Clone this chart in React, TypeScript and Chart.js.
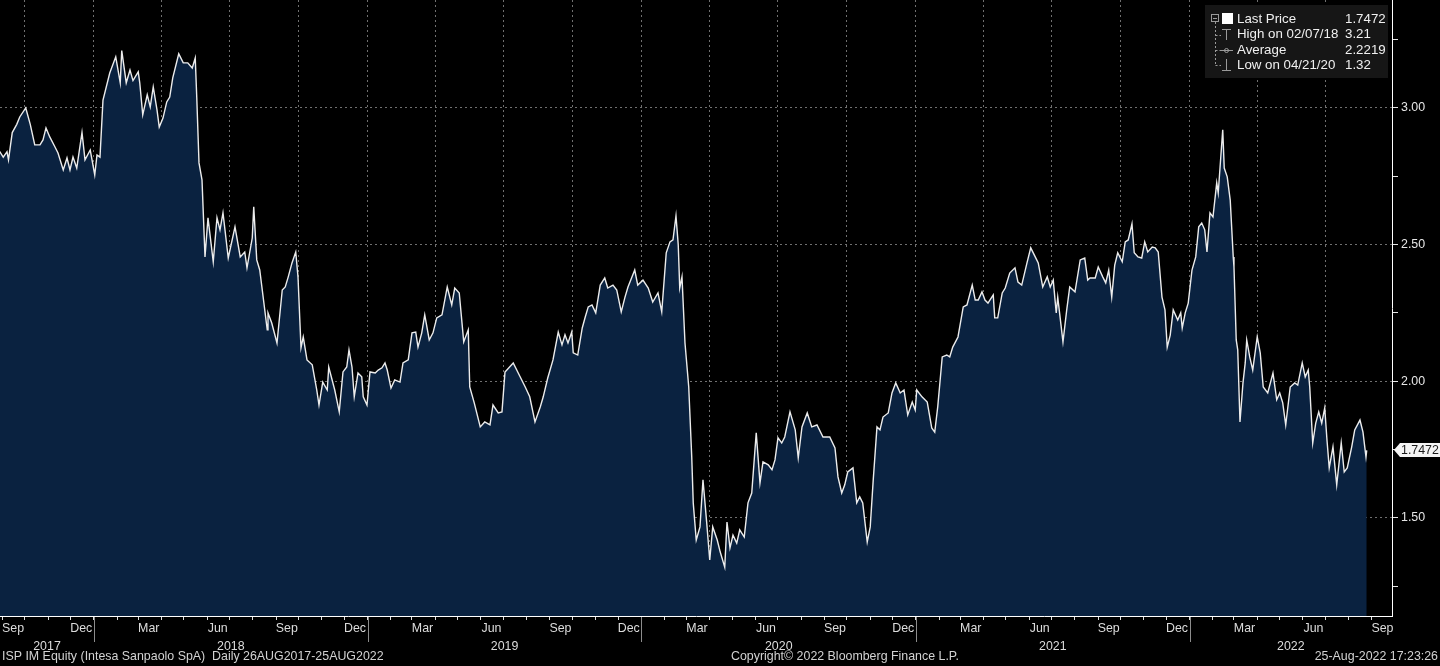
import React, { useEffect, useRef } from 'react';
import { Chart, registerables } from 'chart.js';

Chart.register(...registerables);

const FONT = "'Liberation Sans', Arial, sans-serif";
const START_UTC = Date.UTC(2017, 7, 26);

// days since 26 Aug 2017
const tradingDays = [
  0, 7, 12, 14, 19, 25, 29, 37, 43, 49,
  56, 60, 64, 69, 76, 80, 87, 92, 96, 100,
  105, 112, 116, 123, 129, 132, 136, 140, 149, 157,
  163, 165, 171, 176, 180, 187, 189, 193, 199, 203,
  207, 212, 215, 220, 225, 229, 233, 241, 247, 253,
  259, 263, 265, 268, 272, 276, 280, 287, 292, 296,
  300, 307, 316, 323, 329, 332, 339, 341, 345, 349,
  359, 360, 365, 372, 379, 383, 387, 392, 397, 400,
  404, 407, 412, 419, 425, 428, 433, 439, 441, 449,
  455, 460, 465, 468, 472, 475, 480, 485, 487, 492,
  496, 503, 507, 512, 516, 519, 524, 529, 536, 540,
  547, 552, 557, 560, 565, 569, 575, 580, 585, 592,
  599, 605, 609, 615, 621, 627, 629, 635, 643, 649,
  656, 660, 667, 672, 676, 687, 693, 703, 709, 716,
  723, 727, 733, 740, 747, 752, 756, 760, 765, 767,
  773, 779, 783, 787, 792, 797, 803, 809, 813, 820,
  825, 831, 836, 840, 849, 853, 860, 867, 873, 880,
  885, 891, 896, 900, 904, 907, 909, 912, 916, 921,
  925, 927, 931, 936, 940, 945, 949, 953, 959, 963,
  969, 972, 976, 980, 985, 989, 995, 1000, 1005, 1011,
  1016, 1020, 1027, 1032, 1036, 1040, 1045, 1049, 1056, 1063,
  1067, 1072, 1079, 1085, 1092, 1100, 1109, 1116, 1120, 1125,
  1129, 1133, 1140, 1145, 1149, 1153, 1159, 1163, 1167, 1172,
  1176, 1180, 1187, 1192, 1197, 1203, 1208, 1213, 1219, 1223,
  1225, 1232, 1239, 1245, 1249, 1253, 1259, 1265, 1269, 1273,
  1280, 1287, 1292, 1299, 1303, 1307, 1312, 1316, 1320, 1327,
  1329, 1333, 1339, 1343, 1349, 1356, 1360, 1365, 1372, 1377,
  1383, 1387, 1393, 1399, 1403, 1407, 1411, 1413, 1420, 1425,
  1429, 1436, 1443, 1449, 1453, 1456, 1463, 1467, 1473, 1477,
  1481, 1485, 1489, 1493, 1499, 1503, 1507, 1512, 1515, 1520,
  1525, 1529, 1533, 1539, 1543, 1547, 1552, 1556, 1559, 1563,
  1567, 1573, 1577, 1579, 1583, 1587, 1592, 1597, 1601, 1605,
  1609, 1612, 1616, 1620, 1625, 1627, 1633, 1635, 1639, 1643,
  1647, 1648, 1651, 1653, 1656, 1660, 1663, 1665, 1669, 1673,
  1679, 1683, 1687, 1693, 1700, 1705, 1709, 1713, 1717, 1723,
  1729, 1733, 1739, 1743, 1747, 1749, 1753, 1757, 1761, 1765,
  1769, 1772, 1775, 1780, 1785, 1791, 1795, 1799, 1805, 1809,
  1816, 1820, 1824, 1825,
];

const closePrices = [
  2.85, 2.82, 2.84, 2.81, 2.91, 2.94, 2.967, 3.0, 2.94, 2.865,
  2.865, 2.883, 2.927, 2.894, 2.857, 2.835, 2.773, 2.817, 2.773, 2.82,
  2.78, 2.91, 2.81, 2.846, 2.755, 2.828, 2.82, 3.029, 3.128, 3.187,
  3.092, 3.21, 3.092, 3.139, 3.1, 3.132, 3.092, 2.975, 3.048, 3.004,
  3.077, 2.993, 2.93, 2.963, 3.022, 3.04, 3.11, 3.198, 3.165, 3.165,
  3.146, 3.183, 3.04, 2.799, 2.737, 2.455, 2.598, 2.437, 2.598, 2.554,
  2.616, 2.451, 2.565, 2.455, 2.473, 2.415, 2.524, 2.638, 2.444, 2.407,
  2.188, 2.25, 2.213, 2.14, 2.334, 2.345, 2.382, 2.433, 2.473, 2.382,
  2.122, 2.162, 2.078, 2.06, 1.968, 1.913, 1.997, 1.968, 2.052, 1.968,
  1.888, 2.034, 2.052, 2.115, 2.052, 1.943, 2.03, 2.016, 1.943, 1.913,
  2.034, 2.03, 2.041, 2.049, 2.067, 2.041, 1.975, 2.005, 1.997, 2.067,
  2.078, 2.177, 2.18, 2.125, 2.177, 2.243, 2.151, 2.177, 2.232, 2.243,
  2.345, 2.279, 2.341, 2.323, 2.144, 2.188, 1.979, 1.921, 1.833, 1.851,
  1.84, 1.913, 1.884, 1.888, 2.034, 2.067, 2.034, 1.979, 1.943, 1.851,
  1.906, 1.943, 2.012, 2.078, 2.18, 2.133, 2.17, 2.14, 2.18, 2.104,
  2.096, 2.195, 2.235, 2.272, 2.279, 2.25, 2.352, 2.378, 2.341, 2.352,
  2.334, 2.254, 2.308, 2.345, 2.407, 2.352, 2.37, 2.341, 2.29, 2.323,
  2.254, 2.47, 2.51, 2.517, 2.605, 2.499, 2.341, 2.382, 2.14, 1.979,
  1.723, 1.555, 1.419, 1.467, 1.639, 1.481, 1.346, 1.467, 1.419, 1.375,
  1.32, 1.485, 1.39, 1.437, 1.408, 1.456, 1.43, 1.555, 1.591, 1.811,
  1.628, 1.705, 1.694, 1.676, 1.712, 1.793, 1.774, 1.796, 1.888, 1.822,
  1.72, 1.833, 1.884, 1.833, 1.84, 1.796, 1.796, 1.756, 1.65, 1.591,
  1.621, 1.668, 1.683, 1.555, 1.577, 1.555, 1.412, 1.467, 1.639, 1.833,
  1.822, 1.869, 1.884, 1.957, 1.994, 1.957, 1.968, 1.877, 1.924, 1.895,
  1.968, 1.943, 1.924, 1.829, 1.814, 1.906, 2.089, 2.096, 2.089, 2.125,
  2.162, 2.272, 2.279, 2.352, 2.297, 2.297, 2.327, 2.297, 2.286, 2.316,
  2.232, 2.232, 2.323, 2.341, 2.396, 2.415, 2.363, 2.352, 2.433, 2.488,
  2.455, 2.433, 2.345, 2.382, 2.345, 2.37, 2.25, 2.308, 2.144, 2.261,
  2.345, 2.327, 2.444, 2.451, 2.37, 2.378, 2.378, 2.418, 2.382, 2.36,
  2.407, 2.308, 2.425, 2.47, 2.437, 2.51, 2.517, 2.576, 2.47, 2.455,
  2.451, 2.51, 2.473, 2.491, 2.488, 2.473, 2.308, 2.261, 2.125, 2.169,
  2.261, 2.224, 2.25, 2.195, 2.25, 2.286, 2.407, 2.455, 2.565, 2.579,
  2.554, 2.473, 2.616, 2.601, 2.726, 2.689, 2.92, 2.78, 2.748, 2.663,
  2.455, 2.418, 2.151, 2.115, 1.851, 1.994, 2.067, 2.151, 2.089, 2.041,
  2.162, 2.104, 1.979, 1.957, 2.03, 1.932, 1.957, 1.921, 1.84, 1.979,
  1.994, 1.986, 2.067, 2.016, 2.041, 1.979, 1.774, 1.847, 1.888, 1.847,
  1.902, 1.785, 1.683, 1.76, 1.621, 1.774, 1.668, 1.683, 1.76, 1.822,
  1.858, 1.814, 1.723, 1.7472,
];

const yTickValues = [1.25, 1.5, 1.75, 2.0, 2.25, 2.5, 2.75, 3.0, 3.25];
const yLabelledValues = [1.5, 2.0, 2.5, 3.0];
const monthNames = ['Jan', 'Feb', 'Mar', 'Apr', 'May', 'Jun', 'Jul', 'Aug', 'Sep', 'Oct', 'Nov', 'Dec'];
const labelledMonths = [2, 5, 8, 11];
const years = [2017, 2018, 2019, 2020, 2021, 2022];
const legendLabels = ['Last Price', 'High on 02/07/18', 'Average', 'Low on 04/21/20'];
const legendValues = ['1.7472', '3.21', '2.2219', '1.32'];
const footerLeft = 'ISP IM Equity (Intesa Sanpaolo SpA)  Daily 26AUG2017-25AUG2022';
const footerCenter = 'Copyright\u00A9 2022 Bloomberg Finance L.P.';
const footerRight = '25-Aug-2022 17:23:26';

const X_MIN = 2.67;
const X_MAX = 1858.7;
const Y_MIN = 1.141;
const Y_MAX = 3.395;

const dayOf = (y: number, m: number, d: number) => (Date.UTC(y, m, d) - START_UTC) / 86400000;

type XTick = { value: number; kind: 'month' | 'label' | 'year'; quarter?: boolean; text?: string | string[] };

function buildXTicks(): XTick[] {
  const out: XTick[] = [];
  for (let y = 2017; y <= 2022; y++) {
    for (let m = 0; m < 12; m++) {
      const d = dayOf(y, m, 1);
      if (d >= X_MIN && d <= X_MAX) out.push({ value: d, kind: 'month', quarter: m % 3 === 0 });
      const mid = dayOf(y, m, 15);
      if (labelledMonths.includes(m) && mid >= X_MIN && mid <= X_MAX) {
        out.push({ value: mid, kind: 'label', text: monthNames[m] });
      }
    }
  }
  years.forEach((y) => {
    const a = Math.max(dayOf(y, 0, 1), X_MIN);
    const b = Math.min(dayOf(y + 1, 0, 1), X_MAX);
    out.push({ value: (a + b) / 2, kind: 'year', text: ['', String(y)] });
  });
  out.sort((p, q) => p.value - q.value);
  return out;
}

export default function App() {
  const ref = useRef<HTMLCanvasElement>(null);

  useEffect(() => {
    document.body.style.margin = '0';
    document.body.style.background = '#000';
    const canvas = ref.current!;
    const xTicks = buildXTicks();
    const info = new Map<number, XTick>(xTicks.map((t) => [t.value, t]));

    const overlay = {
      id: 'bbgOverlay',
      afterDraw(chart: any) {
        const { ctx, chartArea, scales } = chart;
        const xs = scales.x;
        const ys = scales.y;
        ctx.save();
        // year separators
        ctx.strokeStyle = '#8c8c8c';
        ctx.lineWidth = 1;
        years.slice(1).forEach((y) => {
          const px = Math.round(xs.getPixelForValue(dayOf(y, 0, 1))) + 0.5;
          ctx.beginPath();
          ctx.moveTo(px, chartArea.bottom + 1);
          ctx.lineTo(px, chartArea.bottom + 26);
          ctx.stroke();
        });
        // footer
        ctx.font = `12.4px ${FONT}`;
        ctx.fillStyle = '#d2d2d2';
        ctx.textBaseline = 'middle';
        ctx.textAlign = 'left';
        ctx.fillText(footerLeft, 2, 657);
        ctx.fillText(footerCenter, 731, 657);
        ctx.textAlign = 'right';
        ctx.fillText(footerRight, 1438, 657);

        // legend box
        ctx.fillStyle = '#161616';
        ctx.fillRect(1205, 5, 183, 73);
        const rows = [19, 34.5, 50, 65];
        ctx.strokeStyle = '#9a9a9a';
        ctx.lineWidth = 1;
        // tree
        ctx.strokeRect(1211.5, 14.5, 7, 7);
        ctx.beginPath();
        ctx.moveTo(1213, 18.5);
        ctx.lineTo(1217, 18.5);
        ctx.stroke();
        ctx.setLineDash([2, 2]);
        ctx.beginPath();
        ctx.moveTo(1215.5, 22);
        ctx.lineTo(1215.5, rows[3]);
        rows.slice(1).forEach((r) => {
          ctx.moveTo(1215.5, Math.round(r) + 0.5);
          ctx.lineTo(1221, Math.round(r) + 0.5);
        });
        ctx.stroke();
        ctx.setLineDash([]);
        // symbols
        ctx.fillStyle = '#ffffff';
        ctx.fillRect(1222, 13, 11, 11);
        ctx.beginPath();
        ctx.moveTo(1222, 29.5);
        ctx.lineTo(1231, 29.5);
        ctx.moveTo(1226.5, 29.5);
        ctx.lineTo(1226.5, 40);
        ctx.moveTo(1220, 50.5);
        ctx.lineTo(1233, 50.5);
        ctx.moveTo(1226.5, 59);
        ctx.lineTo(1226.5, 70.5);
        ctx.moveTo(1222, 70.5);
        ctx.lineTo(1231, 70.5);
        ctx.stroke();
        ctx.beginPath();
        ctx.arc(1226.5, 50.5, 2, 0, Math.PI * 2);
        ctx.stroke();
        // legend text
        ctx.font = `13.3px ${FONT}`;
        ctx.fillStyle = '#f0f0f0';
        ctx.textAlign = 'left';
        ctx.textBaseline = 'middle';
        legendLabels.forEach((t, i) => ctx.fillText(t, 1237, rows[i]));
        legendValues.forEach((t, i) => ctx.fillText(t, 1345, rows[i]));

        // last price tag
        const last = closePrices[closePrices.length - 1];
        const ty = Math.round(ys.getPixelForValue(last));
        ctx.fillStyle = '#f4f4f4';
        ctx.beginPath();
        ctx.moveTo(1394, ty);
        ctx.lineTo(1400, ty - 7);
        ctx.lineTo(1440, ty - 7);
        ctx.lineTo(1440, ty + 7);
        ctx.lineTo(1400, ty + 7);
        ctx.closePath();
        ctx.fill();
        ctx.font = `12.4px ${FONT}`;
        ctx.fillStyle = '#1a1a1a';
        ctx.fillText(last.toFixed(4), 1401, ty + 0.5);
        ctx.restore();
      },
    };

    const chart = new Chart(canvas, {
      type: 'line',
      data: {
        datasets: [
          {
            data: tradingDays.map((d, i) => ({ x: d, y: closePrices[i] })),
            borderColor: '#ececec',
            borderWidth: 1.4,
            backgroundColor: '#0a2240',
            fill: 'start',
            pointRadius: 0,
            tension: 0,
          },
        ],
      },
      options: {
        animation: false,
        responsive: false,
        events: [],
        layout: { padding: { left: 0, right: 0, top: 0, bottom: 0 } },
        plugins: { legend: { display: false }, tooltip: { enabled: false } },
        scales: {
          x: {
            type: 'linear',
            position: 'bottom',
            min: X_MIN,
            max: X_MAX,
            z: 1,
            afterBuildTicks: (s: any) => {
              s.ticks = xTicks.map((t) => ({ value: t.value }));
            },
            afterFit: (s: any) => {
              s.height = 50;
              s.paddingLeft = 0;
              s.paddingRight = 0;
            },
            border: { display: true, color: '#ffffff', width: 1, dash: [2, 3] },
            grid: {
              drawOnChartArea: true,
              drawTicks: true,
              tickLength: 4,
              lineWidth: 1,
              color: (c: any) => {
                const t = info.get(c.tick?.value);
                return t && t.kind === 'month' && t.quarter ? 'rgba(150,150,150,0.75)' : 'rgba(0,0,0,0)';
              },
              tickColor: (c: any) => {
                const t = info.get(c.tick?.value);
                return t && t.kind === 'month' ? '#dddddd' : 'rgba(0,0,0,0)';
              },
            },
            ticks: {
              autoSkip: false,
              maxRotation: 0,
              minRotation: 0,
              padding: 0,
              color: '#dcdcdc',
              font: { family: FONT, size: 12.4, lineHeight: 1.42 },
              callback: (v: any) => {
                const t = info.get(v);
                return t && t.text ? t.text : '';
              },
            },
          },
          y: {
            type: 'linear',
            position: 'right',
            min: Y_MIN,
            max: Y_MAX,
            z: 1,
            afterBuildTicks: (s: any) => {
              s.ticks = yTickValues.map((v) => ({ value: v }));
            },
            afterFit: (s: any) => {
              s.width = 48;
              s.paddingTop = 0;
              s.paddingBottom = 0;
            },
            border: { display: true, color: '#ffffff', width: 1, dash: [2, 3] },
            grid: {
              drawOnChartArea: true,
              drawTicks: true,
              tickLength: 6,
              lineWidth: 1,
              color: (c: any) =>
                yLabelledValues.includes(c.tick?.value) ? 'rgba(150,150,150,0.75)' : 'rgba(0,0,0,0)',
              tickColor: '#e6e6e6',
            },
            ticks: {
              padding: 3,
              color: '#e6e6e6',
              font: { family: FONT, size: 12.4 },
              callback: (v: any) => (yLabelledValues.includes(v) ? Number(v).toFixed(2) : ''),
            },
          },
        },
      },
      plugins: [overlay],
    } as any);

    return () => {
      chart.destroy();
    };
  }, []);

  return (
    <div style={{ position: 'fixed', left: 0, top: 0, width: 1440, height: 666, background: '#000' }}>
      <canvas ref={ref} width={1440} height={666} style={{ display: 'block', width: 1440, height: 666 }} />
    </div>
  );
}
